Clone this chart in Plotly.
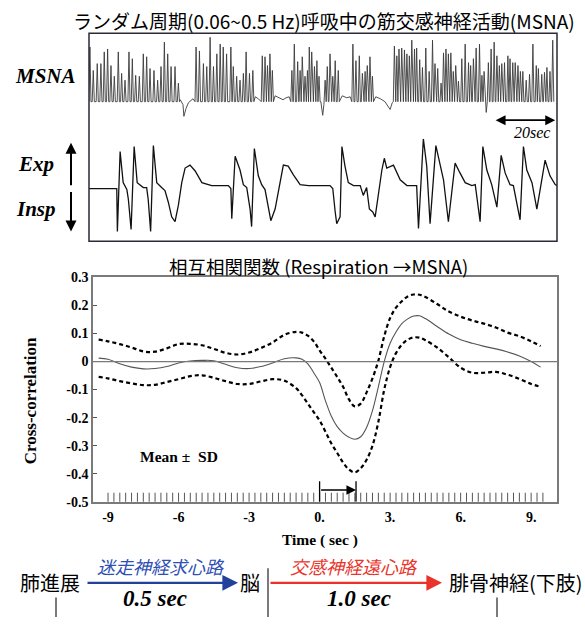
import plotly.graph_objects as go

W, H = 585, 625

# ---------------- Top panel: raw recordings ----------------
# MSNA bursts: spike times (s) and spike heights (a.u.)
MSNA_SPIKE_T = [0.3, 1.4, 2.7, 3.9, 5.0, 6.1, 7.2, 8.3, 9.6, 10.7, 11.8, 13.1, 14.2, 15.3, 16.5, 17.8, 18.9, 20.0,
                21.3, 22.5, 23.6, 24.7, 25.8, 26.9, 28.2, 29.3,
                35.1, 36.2, 37.5, 38.6, 39.7, 40.8, 41.9, 43.0, 44.0, 45.1, 46.5, 47.3, 48.4, 49.5, 50.6, 51.5, 52.6, 53.7,
                56.8, 57.7, 58.5, 59.3, 60.1,
                66.5, 67.3, 68.4, 69.2, 69.9, 70.8, 71.6, 72.2, 73.0, 73.9, 74.7, 75.4, 77.4, 78.1, 79.0, 79.9, 80.7, 81.7,
                86.5, 87.5, 88.6, 89.6, 90.5, 91.2, 92.1, 92.9,
                100.1, 100.9, 101.6, 102.5, 103.4, 104.2, 105.0, 105.8, 106.7, 107.4, 108.4, 109.3, 110.4, 111.5, 112.6,
                113.4, 114.3, 115.4, 116.2, 117.0, 117.8, 118.6, 119.4, 120.2, 121.1, 122.2, 123.3, 124.4, 125.1, 126.0,
                126.9, 128.0, 128.8, 129.5, 130.9, 131.8, 132.8, 133.7, 134.5, 135.3, 136.2, 137.3, 138.0, 138.9, 139.7,
                140.6, 141.4, 142.2, 143.3, 144.4, 145.5, 146.6, 147.3, 148.4, 149.3, 150.1, 151.1, 152.0]
MSNA_SPIKE_H = [59, 35, 42, 42, 54, 57, 40, 29, 54, 32, 25, 54, 47, 30, 29, 52, 49, 37, 35, 25, 39, 64, 52, 39, 39, 22,
                59, 55, 42, 39, 69, 39, 52, 62, 59, 52, 59, 39, 29, 25, 32, 54, 32, 35,
                50, 49, 40, 52, 35,
                35, 62, 44, 35, 49, 29, 35, 59, 54, 39, 45, 29, 25, 39, 52, 29, 45, 35,
                62, 45, 50, 32, 34, 40, 49, 29,
                60, 50, 57, 58, 56, 52, 50, 66, 57, 58, 46, 38, 58, 34, 66, 42, 37, 22, 53, 57, 52, 53, 34, 40, 24,
                47, 62, 43, 40, 47, 58, 62, 30, 34, 43, 57, 64, 50, 40, 42, 43, 50, 47, 43, 43, 40, 34, 34, 25, 31,
                62, 40, 37, 31, 33, 38, 34, 66]
MSNA_FLOOR = 3  # level of the noisy baseline under the spikes (a.u.)
# baseline between bursts, including the negative deflections
MSNA_BASE_T = [29.9, 30.8, 31.1, 31.8, 32.6, 34.1, 54.5, 55.5, 61.0, 62.5, 63.6, 64.6, 65.6, 76.0, 76.6, 77.0,
               83.0, 84.5, 85.6, 94.0, 95.5, 97.0, 98.7, 99.4, 130.2]
MSNA_BASE_V = [5, 0, -12, -4, 2, 6, 8, 6, 9, 7, 5, 7, 8, 3, -11, 0, 9, 7, 8, 8, 6, 3, -5, 2, -8]

# Respiration trace (time s, a.u.; up = expiration)
RESP_T = [0, 9.1, 9.3, 10.2, 11.2, 12.4, 12.9, 13.8, 14.8, 15.8, 17.8, 18.9, 19.4, 20.2, 21.1, 22.2, 23.8, 24.9,
          26.0, 27.1, 28.2, 29.3, 30.4, 31.5, 33.1, 34.8, 37.0, 40.2, 45.7, 46.5, 46.8, 47.9, 49.5, 50.6, 51.7, 52.8,
          53.3, 54.2, 55.5, 56.6, 57.7, 58.8, 59.6, 61.0, 62.6, 63.7, 65.3, 67.0, 69.2, 71.9, 79.0, 79.9, 80.7, 81.2,
          82.3, 82.9, 83.9, 85.0, 86.7, 88.9, 89.9, 91.0, 91.9, 93.0, 93.8, 94.9, 96.0, 96.8, 97.6, 99.8, 102.0, 104.2,
          107.4, 108.0, 109.6, 110.7, 111.8, 113.7, 115.1, 116.2, 117.8, 120.0, 121.6, 123.3, 125.5, 126.6, 128.2,
          129.1, 130.4, 132.0, 133.7, 135.1, 136.4, 138.0, 139.1, 141.3, 142.4, 143.5, 145.2, 146.8, 149.5, 151.1,
          152.8, 153.4]
RESP_V = [0, 0, -44, 38, 6, -1, -11, -42, 43, 6, 1, 1, -11, -44, 44, 6, 1, -2, -14, -29,
          -34, -17, 6, 21, 24, 18, 6, 3, 3, 0, -31, 33, 19, 4, 1, -21, -39, 41, 13, 4,
          -1, -21, -33, -21, 6, 24, 23, 14, 4, 3, 3, 0, -24, -36, -29, 43, 23, 6, 3, 3,
          -7, 1, -21, -24, -29, -4, 19, 31, 21, 24, 9, 3, 3, -41, 51, 23, -36, 44, 23, 9,
          -34, 26, 16, 6, 3, 4, -34, 43, 19, 4, -19, 34, 16, 4, 3, -32, 43, 19, 6, -21,
          29, 13, 4, 3]
TRACE_DURATION = 153.4
SCALE_BAR_SEC = 20

# ---------------- Cross-correlation ----------------
LAG = [-9.4, -9.0, -8.5, -8.0, -7.5, -7.0, -6.5, -6.0, -5.5, -5.0, -4.5, -4.0, -3.5, -3.0, -2.5, -2.0, -1.5,
       -1.0, -0.75, -0.5, -0.25, 0.0, 0.25, 0.5, 0.75, 1.0, 1.25, 1.5, 1.75, 2.0, 2.25, 2.5, 2.75, 3.0, 3.25,
       3.5, 3.75, 4.0, 4.25, 4.5, 5.0, 5.5, 6.0, 6.5, 7.0, 7.5, 8.0, 8.5, 9.0, 9.4]
CC_MEAN = [0.012, 0.008, -0.008, -0.02, -0.026, -0.025, -0.018, -0.005, 0.002, 0.004, 0.003, -0.01, -0.022,
           -0.025, -0.018, -0.005, 0.01, 0.013, 0.008, -0.008, -0.04, -0.075, -0.14, -0.195, -0.232, -0.255,
           -0.27, -0.277, -0.268, -0.235, -0.175, -0.09, 0.0, 0.065, 0.105, 0.135, 0.152, 0.162, 0.163, 0.153,
           0.125, 0.098, 0.078, 0.065, 0.054, 0.045, 0.034, 0.02, 0.0, -0.02]
CC_UPPER = [0.078, 0.072, 0.062, 0.05, 0.036, 0.035, 0.047, 0.062, 0.063, 0.058, 0.045, 0.031, 0.025, 0.032,
            0.048, 0.068, 0.095, 0.106, 0.103, 0.092, 0.072, 0.04, 0.01, -0.022, -0.055, -0.09, -0.135, -0.16,
            -0.15, -0.11, -0.06, 0.003, 0.09, 0.155, 0.192, 0.215, 0.232, 0.239, 0.238, 0.23, 0.205, 0.178,
            0.16, 0.146, 0.135, 0.121, 0.103, 0.09, 0.072, 0.055]
CC_LOWER = [-0.055, -0.06, -0.07, -0.078, -0.084, -0.083, -0.073, -0.063, -0.052, -0.049, -0.058, -0.07, -0.08,
            -0.08, -0.071, -0.063, -0.068, -0.095, -0.12, -0.15, -0.18, -0.21, -0.25, -0.292, -0.326, -0.36,
            -0.385, -0.395, -0.38, -0.35, -0.3, -0.215, -0.1, -0.02, 0.03, 0.06, 0.078, 0.086, 0.085, 0.076,
            0.05, 0.015, -0.022, -0.04, -0.04, -0.037, -0.047, -0.062, -0.08, -0.09]
X_TICKS = [-9, -6, -3, 0, 3, 6, 9]
X_TICKTEXT = ["-9", "-6", "-3", "0.", "3.", "6.", "9."]
Y_TICKS = [-0.5, -0.4, -0.3, -0.2, -0.1, 0, 0.1, 0.2, 0.3]
Y_TICKTEXT = ["-0.5", "-0.4", "-0.3", "-0.2", "-0.1", "0", "0.1", "0.2", "0.3"]
MINOR_STEP = 0.25
MINOR_FROM, MINOR_TO = -9.0, 9.5
DELAY_START, DELAY_END = 0.0, 1.55

SERIF = "Liberation Serif"
CJK = "Noto Sans CJK JP"


def PX(x):
    return x / W


def PY(y):
    return 1 - y / H


# build MSNA polyline from the read spikes + baseline points
pts = []
for t, h in zip(MSNA_SPIKE_T, MSNA_SPIKE_H):
    pts += [(t - 0.35, MSNA_FLOOR), (t, h), (t + 0.35, MSNA_FLOOR)]
pts += list(zip(MSNA_BASE_T, MSNA_BASE_V))
pts.sort(key=lambda p: p[0])
msna_t = [p[0] for p in pts]
msna_v = [p[1] for p in pts]

n_minor = int(round((MINOR_TO - MINOR_FROM) / MINOR_STEP)) + 1
minor_x = [MINOR_FROM + i * MINOR_STEP for i in range(n_minor)]

fig = go.Figure()
fig.add_trace(go.Scatter(x=msna_t, y=msna_v, xaxis="x2", yaxis="y3", mode="lines",
                         line=dict(color="#3c3c3c", width=0.9), hoverinfo="skip"))
fig.add_trace(go.Scatter(x=RESP_T, y=RESP_V, xaxis="x2", yaxis="y4", mode="lines",
                         line=dict(color="#111111", width=1.3), hoverinfo="skip"))

fig.add_trace(go.Scatter(x=LAG, y=CC_UPPER, mode="lines", line=dict(color="black", width=2.2, dash="4px,3px",
                                                                      shape="spline")))
fig.add_trace(go.Scatter(x=LAG, y=CC_LOWER, mode="lines", line=dict(color="black", width=2.2, dash="4px,3px",
                                                                      shape="spline")))
fig.add_trace(go.Scatter(x=LAG, y=CC_MEAN, mode="lines", line=dict(color="#555555", width=1.1, shape="spline")))
fig.add_trace(go.Scatter(x=minor_x, y=[-0.5] * len(minor_x), mode="markers",
                         marker=dict(symbol="line-ns", size=13, line=dict(color="#555555", width=1)),
                         cliponaxis=True))

shapes = [
    # frame around raw recordings
    dict(type="rect", xref="paper", yref="paper", x0=PX(89), x1=PX(557), y0=PY(240), y1=PY(27),
         line=dict(color="#2a2a38", width=1.5)),
    # zero line
    dict(type="line", xref="x domain", yref="y", x0=0, x1=1, y0=0, y1=0, line=dict(color="#7a7a7a", width=1.3)),
    # delay bracket
    dict(type="line", xref="x", yref="y", x0=DELAY_START, x1=DELAY_START, y0=-0.427, y1=-0.5,
         line=dict(color="black", width=1.3)),
    dict(type="line", xref="x", yref="y", x0=DELAY_END, x1=DELAY_END, y0=-0.427, y1=-0.5,
         line=dict(color="black", width=1.3)),
    # bottom diagram ticks
    dict(type="line", xref="paper", yref="paper", x0=PX(56), x1=PX(56), y0=PY(605), y1=PY(625),
         line=dict(color="#333333", width=1.3)),
    dict(type="line", xref="paper", yref="paper", x0=PX(268), x1=PX(268), y0=PY(575), y1=PY(625),
         line=dict(color="#333333", width=1.3)),
    dict(type="line", xref="paper", yref="paper", x0=PX(497), x1=PX(497), y0=PY(605), y1=PY(625),
         line=dict(color="#333333", width=1.3)),
]

ann = []


def text(x, y, s, size, family, color="black", angle=0, xanchor="center"):
    ann.append(dict(x=PX(x), y=PY(y), xref="paper", yref="paper", text=s, showarrow=False,
                    font=dict(size=size, family=family, color=color), textangle=angle,
                    xanchor=xanchor, yanchor="middle"))


text(324, 14, "ランダム周期(0.06~0.5 Hz)呼吸中の筋交感神経活動(MSNA)", 19, CJK)
text(45, 71, "<b><i>MSNA</i></b>", 21, SERIF)
text(36, 161, "<b><i>Exp</i></b>", 21, SERIF)
text(36, 207, "<b><i>Insp</i></b>", 21, SERIF)
text(532, 129, "<i>20sec</i>", 16, SERIF)
text(318, 265, "相互相関関数 (Respiration →MSNA)", 18.5, CJK)
text(30, 404, "<b>Cross-correlation</b>", 17, SERIF, angle=-90)
text(320, 546, "<b>Time ( sec )</b>", 15.5, SERIF)
text(50, 590, "肺進展", 20, CJK)
text(161, 573, "<i>迷走神経求心路</i>", 18, CJK, color="#2f4fb5")
text(155, 606, "<b><i>0.5 sec</i></b>", 23, SERIF)
text(250, 590, "脳", 20, CJK)
text(354, 573, "<i>交感神経遠心路</i>", 18, CJK, color="#e8362c")
text(359, 606, "<b><i>1.0 sec</i></b>", 23, SERIF)
text(447, 590, "腓骨神経(下肢)", 20, CJK, xanchor="left")

# Mean ± SD in data coords
ann.append(dict(x=-6.0, y=-0.34, xref="x", yref="y", text="<b>Mean ±  SD</b>", showarrow=False,
                font=dict(size=15.5, family=SERIF, color="black")))

# arrows
ann.append(dict(x=PX(71), y=PY(139), xref="paper", yref="paper", ax=0, ay=44, axref="pixel", ayref="pixel",
                showarrow=True, arrowhead=2, arrowsize=1.1, arrowwidth=2, arrowcolor="black", text=""))
ann.append(dict(x=PX(71), y=PY(230), xref="paper", yref="paper", ax=0, ay=-41, axref="pixel", ayref="pixel",
                showarrow=True, arrowhead=2, arrowsize=1.1, arrowwidth=2, arrowcolor="black", text=""))
ann.append(dict(x=TRACE_DURATION - 0.6, y=-16, xref="x2", yref="y3",
                ax=TRACE_DURATION - 0.6 - SCALE_BAR_SEC, ay=-16, axref="x2", ayref="y3",
                showarrow=True, arrowhead=2, arrowside="end+start", arrowsize=1.1, arrowwidth=1.8,
                arrowcolor="black", text=""))
ann.append(dict(x=DELAY_END, y=-0.458, xref="x", yref="y", ax=DELAY_START, ay=-0.458, axref="x", ayref="y",
                showarrow=True, arrowhead=2, arrowsize=1.2, arrowwidth=1.6, arrowcolor="black", text=""))
ann.append(dict(x=PX(238), y=PY(590), xref="paper", yref="paper", ax=-152, ay=0, axref="pixel", ayref="pixel",
                showarrow=True, arrowhead=2, arrowsize=1.3, arrowwidth=2.4, arrowcolor="#23409a", text=""))
ann.append(dict(x=PX(442), y=PY(590), xref="paper", yref="paper", ax=-173, ay=0, axref="pixel", ayref="pixel",
                showarrow=True, arrowhead=2, arrowsize=1.3, arrowwidth=2.4, arrowcolor="#e8322a", text=""))

fig.update_layout(
    width=W, height=H, margin=dict(l=0, r=0, t=0, b=0),
    paper_bgcolor="white", plot_bgcolor="white", showlegend=False,
    xaxis=dict(domain=[PX(93), PX(557)], range=[-9.64, 10.1], tickvals=X_TICKS, ticktext=X_TICKTEXT,
               ticks="", showline=True, mirror=True, linecolor="#7a7a7a", linewidth=1.5, showgrid=False,
               zeroline=False, tickfont=dict(family=SERIF, size=14, color="black", weight="bold"),
               ticklabelstandoff=2, anchor="y", fixedrange=True),
    yaxis=dict(domain=[PY(507), PY(277)], range=[-0.5, 0.3], tickvals=Y_TICKS, ticktext=Y_TICKTEXT,
               ticks="inside", ticklen=4, tickcolor="#555555", showline=True, mirror=True, linecolor="#7a7a7a",
               linewidth=1.5, showgrid=False, zeroline=False,
               tickfont=dict(family=SERIF, size=14, color="black", weight="bold"), anchor="x"),
    xaxis2=dict(domain=[PX(89), PX(557)], range=[0, TRACE_DURATION], visible=False, anchor="y3"),
    yaxis3=dict(domain=[PY(135), PY(27)], range=[-35, 73], visible=False, anchor="x2"),
    yaxis4=dict(domain=[PY(240), PY(135)], range=[-54, 51], visible=False, anchor="x2"),
    shapes=shapes, annotations=ann,
)

fig.write_html("out.html")
